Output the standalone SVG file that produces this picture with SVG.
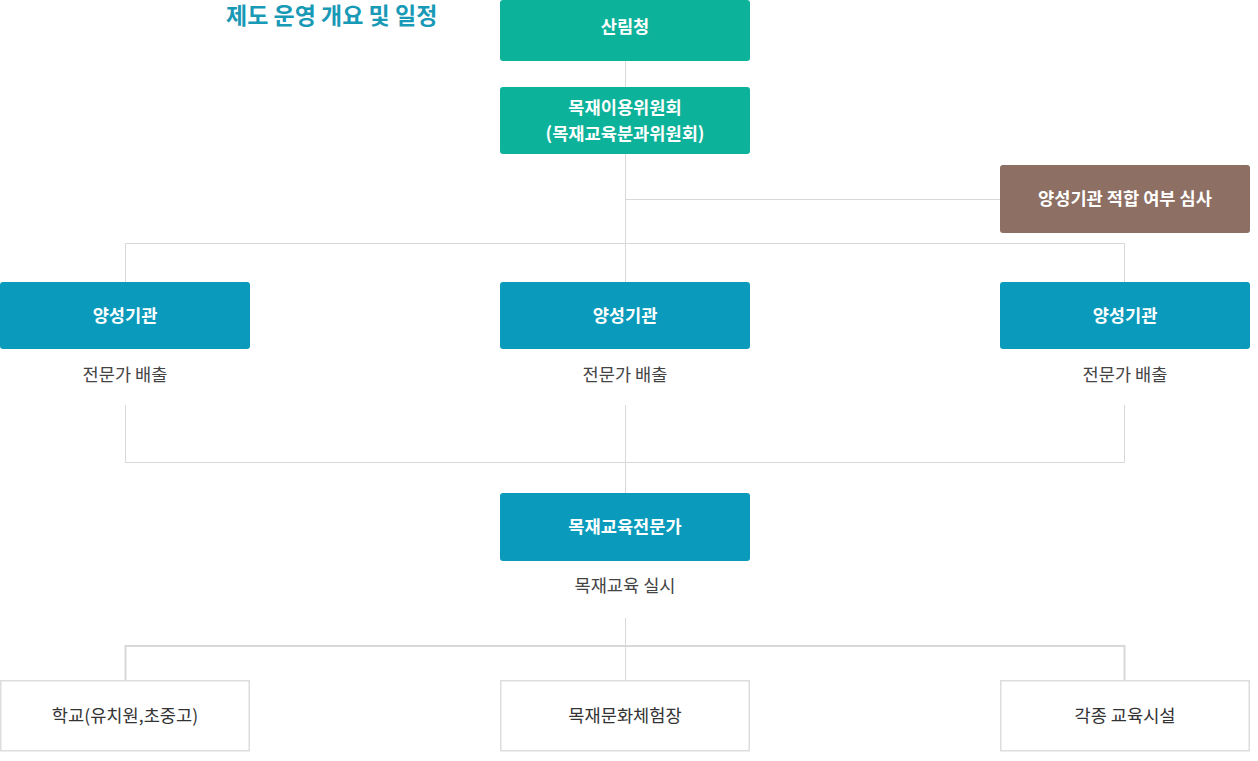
<svg xmlns="http://www.w3.org/2000/svg" width="1258" height="761" viewBox="0 0 1258 761">
<style>
text{font-family:"Noto Sans CJK KR","Noto Sans",sans-serif;text-anchor:middle}
.title{font-size:23px;font-weight:700;fill:#1899b6;text-anchor:start}
.bt{font-size:17.6px;font-weight:700;fill:#ffffff}
.sub{font-size:17.6px;fill:#444444}
.lt{font-size:17.6px;fill:#333333}
.green{fill:#0db29a}
.blue{fill:#0a9bbc}
.brown{fill:#8e6f63}
.white{fill:#ffffff;stroke:#dddddd;stroke-width:1.5}
.con{stroke:#d8d8d8;stroke-width:1;fill:none}
.con2{stroke:#d8d8d8;stroke-width:2;fill:none}
</style>
<rect width="1258" height="761" fill="#ffffff"/>
<text class="title" x="226" y="24">제도 운영 개요 및 일정</text>
<g id="connectors">
<path class="con" d="M625.5 61V87M625.5 154V282M625.5 199.5H1000M125.5 282V243.5H1124.5V282"/>
<path class="con" d="M125.5 405V462.5H1124.5V405M625.5 405V493"/>
<path class="con" d="M625.5 618V680"/>
<path class="con2" d="M125.5 680V646H1124.5V680"/>
</g>
<g id="n-sanrim"><rect class="green" x="500" y="0" width="250" height="61" rx="3"/><text class="bt" x="625" y="33">산림청</text></g>
<g id="n-committee"><rect class="green" x="500" y="87" width="250" height="67" rx="3"/><text class="bt" x="625" y="114">목재이용위원회</text><text class="bt" x="625" y="140">(목재교육분과위원회)</text></g>
<g id="n-review"><rect class="brown" x="1000" y="165" width="250" height="68" rx="3"/><text class="bt" x="1125" y="205">양성기관 적합 여부 심사</text></g>
<g id="n-inst1"><rect class="blue" x="0" y="282" width="250" height="67" rx="3"/><text class="bt" x="125" y="322">양성기관</text><text class="sub" x="125" y="381">전문가 배출</text></g>
<g id="n-inst2"><rect class="blue" x="500" y="282" width="250" height="67" rx="3"/><text class="bt" x="625" y="322">양성기관</text><text class="sub" x="625" y="381">전문가 배출</text></g>
<g id="n-inst3"><rect class="blue" x="1000" y="282" width="250" height="67" rx="3"/><text class="bt" x="1125" y="322">양성기관</text><text class="sub" x="1125" y="381">전문가 배출</text></g>
<g id="n-expert"><rect class="blue" x="500" y="493" width="250" height="68" rx="3"/><text class="bt" x="625" y="533">목재교육전문가</text><text class="sub" x="625" y="592">목재교육 실시</text></g>
<g id="n-school"><rect class="white" x="0.75" y="680.75" width="248.5" height="70"/><text class="lt" x="125" y="722">학교(유치원,초중고)</text></g>
<g id="n-center"><rect class="white" x="500.75" y="680.75" width="248.5" height="70"/><text class="lt" x="625" y="722">목재문화체험장</text></g>
<g id="n-facility"><rect class="white" x="1000.75" y="680.75" width="248.5" height="70"/><text class="lt" x="1125" y="722">각종 교육시설</text></g>
</svg>
